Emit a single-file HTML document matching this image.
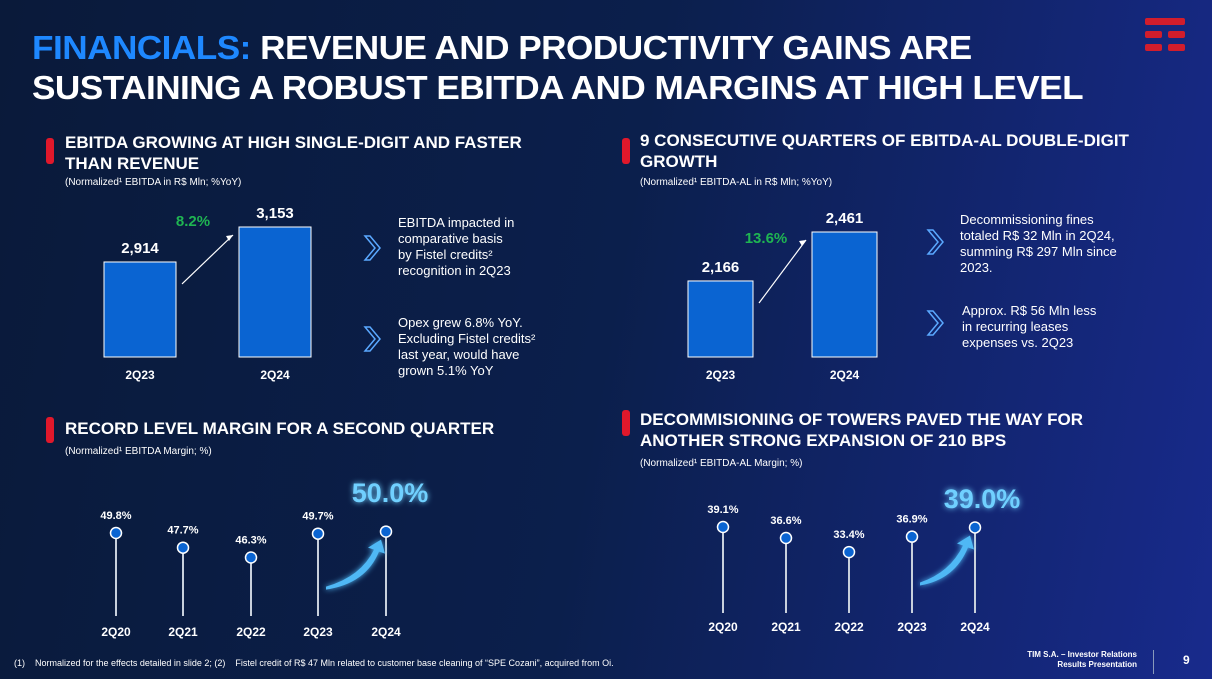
<!DOCTYPE html>
<html><head><meta charset="utf-8"><style>
body{margin:0;width:1212px;height:679px;overflow:hidden;font-family:"Liberation Sans",sans-serif;}
#bg{position:absolute;left:0;top:0;width:1212px;height:679px;background:linear-gradient(100deg,#0a1a3a 0%,#0b1f4c 50%,#182a8c 100%);}
.t{position:absolute;color:#fff;font-weight:bold;white-space:nowrap}
.red{position:absolute;width:8px;height:26px;background:#e0182b;border-radius:3px}
svg{position:absolute;left:0;top:0}
</style></head><body>
<div id="bg"></div>
<div class="t" style="left:32px;top:28px;font-size:33px;line-height:40px;letter-spacing:-0.5px;transform:scaleX(1.066);transform-origin:left"><span style="color:#1e88ff">FINANCIALS:</span> REVENUE AND PRODUCTIVITY GAINS ARE<br>SUSTAINING A ROBUST EBITDA AND MARGINS AT HIGH LEVEL</div>
<div style="position:absolute;left:1145px;top:18px;width:40px;height:34px">
<div style="position:absolute;left:0;top:0;width:40px;height:7px;background:#d21d2c;border-radius:2px"></div>
<div style="position:absolute;left:0;top:13px;width:17px;height:7px;background:#d21d2c;border-radius:2px"></div>
<div style="position:absolute;left:23px;top:13px;width:17px;height:7px;background:#d21d2c;border-radius:2px"></div>
<div style="position:absolute;left:0;top:26px;width:17px;height:7px;background:#d21d2c;border-radius:2px"></div>
<div style="position:absolute;left:23px;top:26px;width:17px;height:7px;background:#d21d2c;border-radius:2px"></div></div>

<div class="red" style="left:46px;top:138px"></div>
<div class="t" style="left:65px;top:132px;font-size:17px;line-height:21px">EBITDA GROWING AT HIGH SINGLE-DIGIT AND FASTER<br>THAN REVENUE</div>
<div class="t" style="left:65px;top:177px;font-size:10px;font-weight:normal">(Normalized¹ EBITDA in R$ Mln; %YoY)</div>
<div class="red" style="left:622px;top:138px"></div>
<div class="t" style="left:640px;top:130px;font-size:17px;line-height:21px">9 CONSECUTIVE QUARTERS OF EBITDA-AL DOUBLE-DIGIT<br>GROWTH</div>
<div class="t" style="left:640px;top:177px;font-size:10px;font-weight:normal">(Normalized¹ EBITDA-AL in R$ Mln; %YoY)</div>
<div class="red" style="left:46px;top:417px"></div>
<div class="t" style="left:65px;top:419px;font-size:17px">RECORD LEVEL MARGIN FOR A SECOND QUARTER</div>
<div class="t" style="left:65px;top:446px;font-size:10px;font-weight:normal">(Normalized¹ EBITDA Margin; %)</div>
<div class="red" style="left:622px;top:410px"></div>
<div class="t" style="left:640px;top:409px;font-size:17px;line-height:21px">DECOMMISIONING OF TOWERS PAVED THE WAY FOR<br>ANOTHER STRONG EXPANSION OF 210 BPS</div>
<div class="t" style="left:640px;top:458px;font-size:10px;font-weight:normal">(Normalized¹ EBITDA-AL Margin; %)</div>

<div class="t" style="left:398px;top:215px;font-size:13px;font-weight:normal;line-height:16px">EBITDA impacted in<br>comparative basis<br>by Fistel credits²<br>recognition in 2Q23</div>
<div class="t" style="left:398px;top:315px;font-size:13px;font-weight:normal;line-height:16px">Opex grew 6.8% YoY.<br>Excluding Fistel credits²<br>last year, would have<br>grown 5.1% YoY</div>
<div class="t" style="left:960px;top:212px;font-size:13px;font-weight:normal;line-height:16px">Decommissioning fines<br>totaled R$ 32 Mln in 2Q24,<br>summing R$ 297 Mln since<br>2023.</div>
<div class="t" style="left:962px;top:303px;font-size:13px;font-weight:normal;line-height:16px">Approx. R$ 56 Mln less<br>in recurring leases<br>expenses vs. 2Q23</div>

<div class="t" style="left:14px;top:658px;font-size:9px;font-weight:normal">(1)&nbsp;&nbsp;&nbsp;&nbsp;Normalized for the effects detailed in slide 2; (2)&nbsp;&nbsp;&nbsp;&nbsp;Fistel credit of R$ 47 Mln related to customer base cleaning of “SPE Cozani”, acquired from Oi.</div>
<div class="t" style="left:1000px;top:650px;width:137px;text-align:right;font-size:8px;line-height:10px">TIM S.A. – Investor Relations<br>Results Presentation</div>
<div style="position:absolute;left:1153px;top:650px;width:1px;height:24px;background:#8899bb"></div>
<div class="t" style="left:1183px;top:653px;font-size:12px">9</div>

<svg id="chart" width="1212" height="679">
<defs><filter id="glow"><feGaussianBlur stdDeviation="3" result="b"/><feMerge><feMergeNode in="b"/><feMergeNode in="SourceGraphic"/></feMerge></filter></defs>
</svg>
<script>
const barCatsA=["2Q23","2Q24"];
const barValsA=[2914,3153];
const growthA="8.2%";
const barCatsB=["2Q23","2Q24"];
const barValsB=[2166,2461];
const growthB="13.6%";
const marginCats=["2Q20","2Q21","2Q22","2Q23","2Q24"];
const marginVals=[49.8,47.7,46.3,49.7,50.0];
const marginALVals=[39.1,36.6,33.4,36.9,39.0];

const NS="http://www.w3.org/2000/svg";
const svg=document.getElementById('chart');
function mk(tag,attrs,name,txt){const e=document.createElementNS(NS,tag);for(const k in attrs)e.setAttribute(k,attrs[k]);


if(txt!==undefined)e.textContent=txt;svg.appendChild(e);return e;}
const fmt=v=>v.toLocaleString('en-US');

function bars(cats,vals,growth,xs,w,base,k,baseY,gx,gy){
  const yOf=v=>baseY-(v-base)*k;
  cats.forEach((c,i)=>{
    const y=yOf(vals[i]);
    mk('rect',{x:xs[i],y:y,width:w,height:baseY-y,fill:'#0a64d2',stroke:'#fff','stroke-width':1},'bar-'+c);
    mk('text',{x:xs[i]+w/2,y:y-9,fill:'#fff','font-size':15,'font-weight':'bold','text-anchor':'middle'},'bar-value-'+c,fmt(vals[i]));
    mk('text',{x:xs[i]+w/2,y:baseY+22,fill:'#fff','font-size':12,'font-weight':'bold','text-anchor':'middle'},'bar-label-'+c,c);
  });
  const y0=yOf(vals[0]),y1=yOf(vals[1]);
  mk('line',{x1:xs[0]+w+6,y1:y0+22,x2:xs[1]-6,y2:y1+8,stroke:'#fff','stroke-width':1.2},'growth-arrow');
  mk('path',{d:`M${xs[1]-6} ${y1+8} l-7 1 l3 5 z`,fill:'#fff'},'growth-arrowhead');
  mk('text',{x:gx,y:gy,fill:'#1fb552','font-size':15,'font-weight':'bold','text-anchor':'middle'},'growth-label',growth);
}
bars(barCatsA,barValsA,growthA,[104,239],72,2265,0.1464,357,193,226);
bars(barCatsB,barValsB,growthB,[688,812],65,1708,0.166,357,766,243);

function lolli(vals,xs,ref,refY,k,stemY,labY,big,bigX,bigY){
  const yOf=v=>refY-(v-ref)*k;
  vals.forEach((v,i)=>{
    const y=yOf(v);
    mk('line',{x1:xs[i],y1:y+6,x2:xs[i],y2:stemY,stroke:'#c8d0dc','stroke-width':2},'stem-'+marginCats[i]);
    mk('circle',{cx:xs[i],cy:y,r:5.5,fill:'#0a64d2',stroke:'#fff','stroke-width':1.5},'dot-'+marginCats[i]);
    if(i<vals.length-1) mk('text',{x:xs[i],y:y-14,fill:'#fff','font-size':11,'font-weight':'bold','text-anchor':'middle'},'value-'+marginCats[i],v.toFixed(1)+'%');
    mk('text',{x:xs[i],y:labY,fill:'#fff','font-size':12,'font-weight':'bold','text-anchor':'middle'},'label-'+marginCats[i],marginCats[i]);
  });
  const last=vals.length-1,ly=yOf(vals[last]);
  mk('text',{x:bigX,y:bigY,fill:'#6fd0ff','font-size':27,'font-weight':'bold','text-anchor':'middle',filter:'url(#glow)'},'highlight-value',vals[last].toFixed(1)+'%');
  mk('path',{d:`M${xs[3]+8} ${ly+55} Q${xs[4]-25} ${ly+45} ${xs[4]-12} ${ly+18} l-6 -2 l13 -8 l4 14 l-6 -2 Q${xs[4]-20} ${ly+52} ${xs[3]+8} ${ly+58} z`,fill:'#4fb8f5',filter:'url(#glow)'},'highlight-arrow');
}
lolli(marginVals,[116,183,251,318,386],49.8,533,7,616,636,true,390,502);
lolli(marginALVals,[723,786,849,912,975],39.1,527,4.4,613,631,true,982,508);

function chev(x,y){mk('path',{d:`M${x} ${y} l10 12 l-10 12 l5 0 l10 -12 l-10 -12 z`,fill:'none',stroke:'#5aa8ff','stroke-width':1.5},'chevron-icon');}
chev(365,236);chev(365,327);chev(928,230);chev(928,311);
</script>
</body></html>
